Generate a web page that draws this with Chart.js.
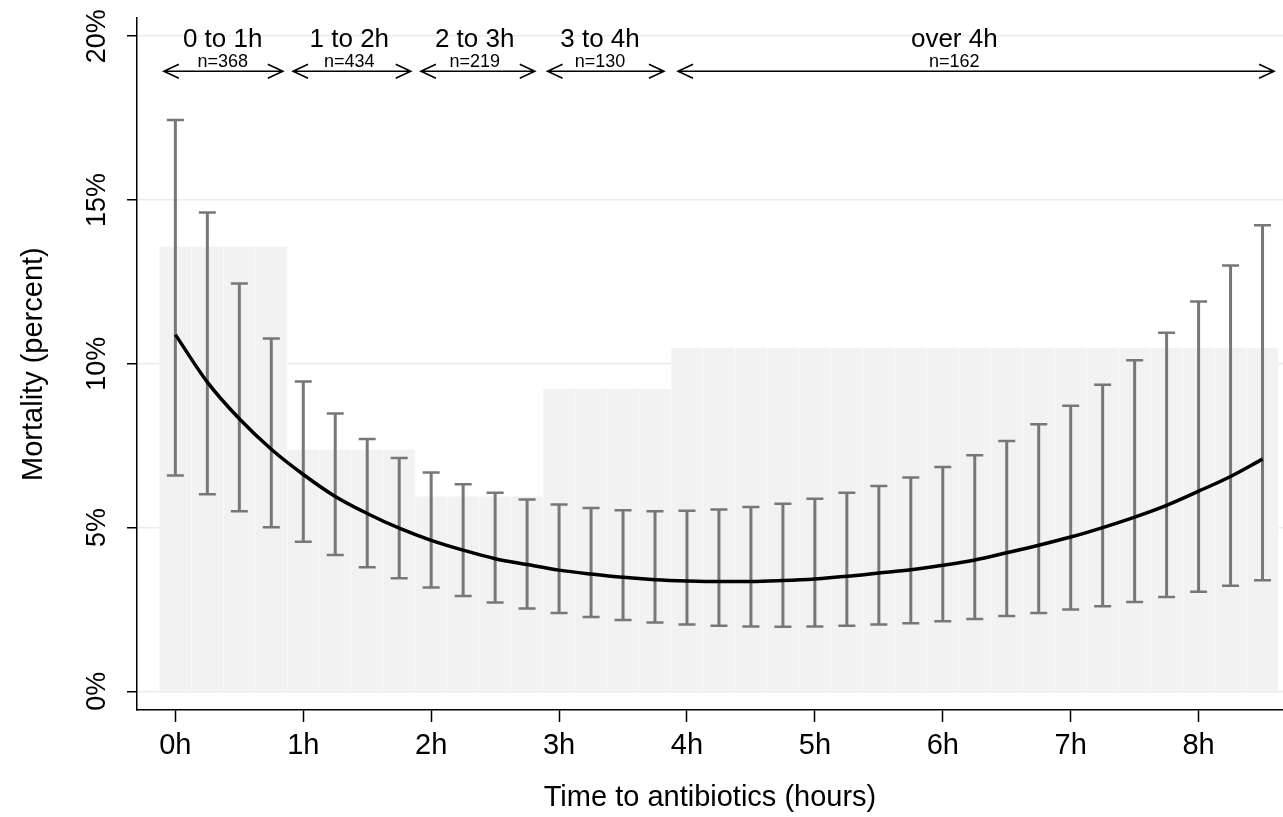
<!DOCTYPE html>
<html>
<head>
<meta charset="utf-8">
<script src="https://cdn.jsdelivr.net/npm/chart.js@4"></script>
<style>
    html, body { margin: 0; padding: 0; background: #fff; }
    #chart { display: block; }
</style>
</head>
<body>
<canvas id="chart" width="1283" height="817"></canvas>
<script>
// time points (hours) of the fitted curve / error bars
const hours = [0, 0.25, 0.5, 0.75, 1, 1.25, 1.5, 1.75, 2, 2.25, 2.5, 2.75, 3, 3.25, 3.5, 3.75,
    4, 4.25, 4.5, 4.75, 5, 5.25, 5.5, 5.75, 6, 6.25, 6.5, 6.75, 7, 7.25, 7.5, 7.75, 8, 8.25, 8.5];

// predicted mortality (%) and 95% CI
const fitted = [10.89, 9.44, 8.32, 7.39, 6.62, 5.95, 5.43, 4.98, 4.61, 4.31, 4.05, 3.87, 3.70, 3.58, 3.48, 3.41,
    3.37, 3.35, 3.35, 3.38, 3.43, 3.51, 3.61, 3.71, 3.85, 4.01, 4.23, 4.46, 4.71, 5.00, 5.32, 5.68, 6.11, 6.56, 7.09];
const upper = [17.44, 14.62, 12.45, 10.77, 9.46, 8.48, 7.70, 7.12, 6.68, 6.32, 6.06, 5.86, 5.70, 5.60, 5.53, 5.50,
    5.51, 5.55, 5.63, 5.73, 5.88, 6.06, 6.27, 6.53, 6.85, 7.21, 7.64, 8.15, 8.72, 9.36, 10.11, 10.95, 11.90, 13.00, 14.23];
const lower = [6.59, 6.02, 5.50, 5.01, 4.57, 4.16, 3.79, 3.45, 3.17, 2.91, 2.71, 2.53, 2.39, 2.27, 2.18, 2.10,
    2.04, 2.00, 1.98, 1.97, 1.98, 2.00, 2.04, 2.08, 2.14, 2.21, 2.30, 2.39, 2.50, 2.60, 2.73, 2.88, 3.04, 3.22, 3.39];

// observed mortality per group (%)
const groupNames = ["0 to 1h", "1 to 2h", "2 to 3h", "3 to 4h", "over 4h"];
const groupN = ["n=368", "n=434", "n=219", "n=130", "n=162"];
const groupRate = [13.58, 7.38, 5.95, 9.23, 10.49];
const spanFrom = [-0.09, 0.92, 1.92, 2.91, 3.93];
const spanTo = [0.84, 1.84, 2.81, 3.82, 8.59];
const nameAt = [0.37, 1.36, 2.34, 3.32, 6.09];

const xTicks = [0, 1, 2, 3, 4, 5, 6, 7, 8];
const yTicks = [0, 5, 10, 15, 20];

const FONT = "'Liberation Sans', Arial, sans-serif";

function groupOf(h) {
    return Math.min(Math.floor(h), groupNames.length - 1);
}

const overlay = {
    id: "overlay",
    afterDatasetDraw(chart, args) {
        if (args.index !== 1) return;
        const { ctx, scales: { x, y } } = chart;
        ctx.save();
        ctx.strokeStyle = "#777777";
        hours.forEach((h, i) => {
            const px = x.getPixelForValue(h);
            const top = y.getPixelForValue(upper[i]);
            const bottom = y.getPixelForValue(lower[i]);
            ctx.lineWidth = 3;
            ctx.beginPath();
            ctx.moveTo(px, top);
            ctx.lineTo(px, bottom);
            ctx.stroke();
            ctx.lineWidth = 2.5;
            ctx.beginPath();
            ctx.moveTo(px - 8.5, top);
            ctx.lineTo(px + 8.5, top);
            ctx.moveTo(px - 8.5, bottom);
            ctx.lineTo(px + 8.5, bottom);
            ctx.stroke();
        });
        ctx.restore();
    },
    afterDraw(chart) {
        const { ctx, scales: { x, y } } = chart;
        const base = y.getPixelForValue(20);
        ctx.save();
        ctx.fillStyle = "#000";
        ctx.strokeStyle = "#000";
        ctx.textAlign = "center";
        ctx.textBaseline = "middle";
        groupNames.forEach((name, i) => {
            const cx = x.getPixelForValue(nameAt[i]);
            ctx.font = "26px " + FONT;
            ctx.fillText(name, cx, base + 4);
            ctx.font = "18px " + FONT;
            ctx.fillText(groupN[i], cx, base + 26);

            const x1 = x.getPixelForValue(spanFrom[i]);
            const x2 = x.getPixelForValue(spanTo[i]);
            const ay = base + 35;
            ctx.lineWidth = 1.6;
            ctx.beginPath();
            ctx.moveTo(x1, ay);
            ctx.lineTo(x2, ay);
            ctx.moveTo(x1 + 15, ay - 7);
            ctx.lineTo(x1, ay);
            ctx.lineTo(x1 + 15, ay + 7);
            ctx.moveTo(x2 - 15, ay - 7);
            ctx.lineTo(x2, ay);
            ctx.lineTo(x2 - 15, ay + 7);
            ctx.stroke();
        });
        ctx.restore();
    }
};

const curve = hours.map((h, i) => ({ x: h, y: fitted[i] }));
const bars = hours.map((h) => ({ x: h, y: groupRate[groupOf(h)] }));

new Chart(document.getElementById("chart"), {
    type: "bar",
    data: {
        datasets: [
            {
                type: "line",
                data: curve,
                borderColor: "#000",
                borderWidth: 3.5,
                pointRadius: 0,
                cubicInterpolationMode: "monotone",
                fill: false
            },
            {
                type: "bar",
                data: bars,
                backgroundColor: "#f2f2f2",
                borderColor: "#f8f8f8",
                borderWidth: { left: 1, right: 1, top: 0, bottom: 0 },
                borderSkipped: false,
                barPercentage: 1,
                categoryPercentage: 1
            }
        ]
    },
    options: {
        responsive: false,
        animation: false,
        layout: { padding: { top: 0, right: 0, left: 0, bottom: 0 } },
        plugins: { legend: { display: false }, tooltip: { enabled: false } },
        scales: {
            x: {
                type: "linear",
                offset: false,
                min: -0.3,
                max: 8.66,
                afterBuildTicks: (scale) => { scale.ticks = xTicks.map((v) => ({ value: v })); },
                afterFit: (scale) => { scale.height = 107; },
                grid: { offset: false, drawOnChartArea: false, tickLength: 12, tickColor: "#000", tickWidth: 1.5 },
                border: { color: "#000", width: 1.5 },
                ticks: {
                    callback: (v) => v + "h",
                    color: "#000",
                    font: { family: FONT, size: 29 },
                    padding: 7,
                    maxRotation: 0,
                    autoSkip: false
                },
                title: {
                    display: true,
                    text: "Time to antibiotics (hours)",
                    color: "#000",
                    font: { family: FONT, size: 29 },
                    padding: { top: 0, bottom: 2 }
                }
            },
            y: {
                min: -0.57,
                max: 20.55,
                afterBuildTicks: (scale) => { scale.ticks = yTicks.map((v) => ({ value: v })); },
                afterFit: (scale) => { scale.width = 137; },
                grid: { color: "#ebebeb", lineWidth: 1.5, tickLength: 10, tickColor: "#000", tickWidth: 1.5 },
                border: { color: "#000", width: 1.5 },
                ticks: {
                    callback: (v) => v + "%",
                    color: "#000",
                    font: { family: FONT, size: 27 },
                    minRotation: 90,
                    maxRotation: 90,
                    crossAlign: "center",
                    padding: 2
                },
                title: {
                    display: true,
                    text: "Mortality (percent)",
                    color: "#000",
                    font: { family: FONT, size: 29 },
                    padding: { top: 17, bottom: 0 }
                }
            }
        }
    },
    plugins: [overlay]
});
</script>
</body>
</html>
